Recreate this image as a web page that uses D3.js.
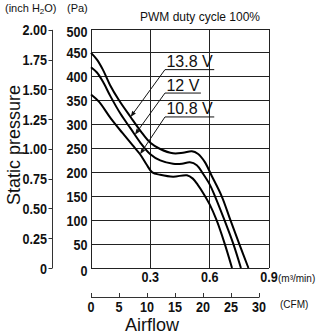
<!DOCTYPE html>
<html>
<head>
<meta charset="utf-8">
<script src="https://cdn.jsdelivr.net/npm/d3@7"></script>
<style>
  body { margin: 0; background: #fff; }
  svg { display: block; }
  .tk { font-family: "Liberation Sans", Arial, sans-serif; font-weight: bold; font-size: 15px; fill: #111; }
  .sm { font-family: "Liberation Sans", Arial, sans-serif; font-size: 11px; fill: #111; }
</style>
</head>
<body>
<svg id="chart" width="333" height="335"></svg>
<script>
// airflow in m3/min, static pressure in Pa
const flow138 = [0, 0.03, 0.06, 0.096, 0.14, 0.2, 0.25, 0.3, 0.35, 0.415, 0.465, 0.51, 0.54, 0.575, 0.61, 0.661, 0.705, 0.75, 0.796];
const pres138 = [450, 436, 415, 383, 352, 316, 287, 262, 249, 240, 241, 244, 239, 222, 193, 150, 100, 50, 0];

const flow12 = [0, 0.03, 0.06, 0.1, 0.15, 0.2, 0.25, 0.3, 0.35, 0.415, 0.46, 0.5, 0.535, 0.565, 0.6, 0.627, 0.675, 0.72, 0.758];
const pres12 = [420, 409, 390, 358, 322, 292, 262, 238, 225, 218, 218, 221, 215, 198, 175, 150, 100, 50, 0];

const flow108 = [0, 0.04, 0.1, 0.16, 0.21, 0.248, 0.28, 0.31, 0.35, 0.415, 0.485, 0.515, 0.54, 0.57, 0.6, 0.635, 0.675, 0.713];
const pres108 = [363, 348, 313, 282, 257, 238, 217, 200, 195, 191, 194, 187, 174, 155, 133, 100, 52, 0];

const voltLabels = ["13.8 V", "12 V", "10.8 V"];
const labelFlow = 0.374;               // where the underline starts
const labelPres = [415, 366, 316];     // underline height
const arrowFlow = [0.2, 0.222, 0.248]; // where each leader meets its curve

const paTicks = [0, 50, 100, 150, 200, 250, 300, 350, 400, 450, 500];
const inchTicks = [0, 0.25, 0.5, 0.75, 1.0, 1.25, 1.5, 1.75, 2.0];
const flowTicks = [0.3, 0.6, 0.9];
const cfmTicks = [0, 5, 10, 15, 20, 25, 30];

const PA_PER_INCH = 249.09;
const M3MIN_PER_CFM = 0.0283168;
const NARROW = 0.84; // squeeze bold digits to look condensed

const series = [
  { q: flow138, p: pres138 },
  { q: flow12, p: pres12 },
  { q: flow108, p: pres108 }
];

const svg = d3.select("#chart");

const x = d3.scaleLinear().domain([0, 0.9]).range([91, 269]);
const y = d3.scaleLinear().domain([0, 500]).range([268, 29]);

// condensed bold label at (px, py)
function tickText(sel, px, py, anchor) {
  sel.attr("class", "tk")
    .attr("text-anchor", anchor)
    .attr("transform", d => `translate(${px(d)},${py(d)}) scale(${NARROW},1)`);
}

// grid
const grid = svg.append("g").attr("stroke", "#222").attr("stroke-width", 1).attr("shape-rendering", "crispEdges");
grid.selectAll("line.h").data(paTicks).enter().append("line")
  .attr("x1", x(0)).attr("x2", x(0.9))
  .attr("y1", d => y(d)).attr("y2", d => y(d));
grid.selectAll("line.v").data([0].concat(flowTicks)).enter().append("line")
  .attr("x1", d => x(d)).attr("x2", d => x(d))
  .attr("y1", y(0)).attr("y2", y(500));

// Pa labels
svg.append("g").selectAll("text").data(paTicks).enter().append("text")
  .call(tickText, () => 87.5, d => y(d) + ((d === 0 || d === 500) ? 8 : 5.5), "end")
  .text(d => d);

// inch H2O axis
const inchG = svg.append("g");
inchG.append("line")
  .attr("x1", 52.5).attr("x2", 52.5)
  .attr("y1", y(0)).attr("y2", y(2.0 * PA_PER_INCH))
  .attr("stroke", "#333").attr("stroke-width", 1);
inchG.selectAll("line.t").data(inchTicks).enter().append("line")
  .attr("x1", 48.5).attr("x2", 52.5)
  .attr("y1", d => Math.round(y(d * PA_PER_INCH)) + 0.5)
  .attr("y2", d => Math.round(y(d * PA_PER_INCH)) + 0.5)
  .attr("stroke", "#333").attr("stroke-width", 1);
inchG.selectAll("text").data(inchTicks).enter().append("text")
  .call(tickText, () => 47, d => y(d * PA_PER_INCH) + 5.5, "end")
  .text(d => d === 0 ? "0" : d.toFixed(2));

// m3/min labels
svg.append("g").selectAll("text").data(flowTicks).enter().append("text")
  .call(tickText, d => x(d), () => 282, "middle")
  .text(d => d.toFixed(1));
svg.append("text").attr("class", "sm").attr("x", 278).attr("y", 282).style("font-size", "10px").text("(m³/min)");

// CFM axis
const cfmG = svg.append("g");
cfmG.append("line")
  .attr("x1", x(0)).attr("x2", x(30 * M3MIN_PER_CFM))
  .attr("y1", 297.5).attr("y2", 297.5)
  .attr("stroke", "#333");
cfmG.selectAll("line.t").data(cfmTicks).enter().append("line")
  .attr("x1", d => Math.round(x(d * M3MIN_PER_CFM)) + 0.5)
  .attr("x2", d => Math.round(x(d * M3MIN_PER_CFM)) + 0.5)
  .attr("y1", 293).attr("y2", 297.5)
  .attr("stroke", "#333");
cfmG.selectAll("text").data(cfmTicks).enter().append("text")
  .call(tickText, d => x(d * M3MIN_PER_CFM), () => 312, "middle")
  .text(d => d);
svg.append("text").attr("class", "sm").attr("x", 280).attr("y", 308).style("font-size", "10px").text("(CFM)");

// curves
const line = d3.line().x(d => x(d[0])).y(d => y(d[1])).curve(d3.curveCatmullRom.alpha(0.5));
svg.append("g").selectAll("path").data(series).enter().append("path")
  .attr("d", s => line(s.q.map((q, i) => [q, s.p[i]])))
  .attr("fill", "none")
  .attr("stroke", "#000")
  .attr("stroke-width", 2);

// voltage labels with leaders
function presAt(s, q) {
  const i = d3.bisectRight(s.q, q) - 1;
  const t = (q - s.q[i]) / (s.q[i + 1] - s.q[i]);
  return s.p[i] + t * (s.p[i + 1] - s.p[i]);
}
voltLabels.forEach((lab, i) => {
  const g = svg.append("g");
  const x0 = x(labelFlow), y0 = y(labelPres[i]);
  const txt = g.append("text")
    .attr("x", x0 + 1.5).attr("y", y0 - 2.5)
    .style("font-family", "'Liberation Sans', Arial, sans-serif")
    .style("font-size", "16px")
    .attr("fill", "#111")
    .text(lab);
  const w = txt.node().getComputedTextLength();
  g.append("line")
    .attr("x1", x0).attr("x2", x0 + w + 3)
    .attr("y1", y0).attr("y2", y0)
    .attr("stroke", "#111").attr("stroke-width", 1);
  const tx = x(arrowFlow[i]), ty = y(presAt(series[i], arrowFlow[i]));
  const ang = Math.atan2(ty - y0, tx - x0);
  const L = 6, W = 2.2;
  const bx = tx - L * Math.cos(ang), by = ty - L * Math.sin(ang);
  g.append("line")
    .attr("x1", x0).attr("y1", y0).attr("x2", bx).attr("y2", by)
    .attr("stroke", "#111").attr("stroke-width", 1);
  g.append("path")
    .attr("d", `M${tx},${ty}L${bx - W * Math.sin(ang)},${by + W * Math.cos(ang)}L${bx + W * Math.sin(ang)},${by - W * Math.cos(ang)}Z`)
    .attr("fill", "#111");
});

// titles
svg.append("text").attr("class", "sm").attr("x", 5).attr("y", 12).html("(inch H<tspan font-size='8' dy='2'>2</tspan><tspan dy='-2'>O)</tspan>");
svg.append("text").attr("class", "sm").attr("x", 67).attr("y", 12).text("(Pa)");
svg.append("text").attr("class", "sm").attr("x", 140).attr("y", 21).style("font-size", "12px").text("PWM duty cycle 100%");
svg.append("text")
  .attr("transform", "translate(20,145) rotate(-90)")
  .attr("text-anchor", "middle")
  .style("font-family", "'Liberation Sans', Arial, sans-serif")
  .style("font-size", "18px")
  .attr("fill", "#111")
  .text("Static pressure");
svg.append("text")
  .attr("x", 152).attr("y", 331)
  .attr("text-anchor", "middle")
  .style("font-family", "'Liberation Sans', Arial, sans-serif")
  .style("font-size", "18px")
  .attr("fill", "#111")
  .text("Airflow");
</script>
</body>
</html>
